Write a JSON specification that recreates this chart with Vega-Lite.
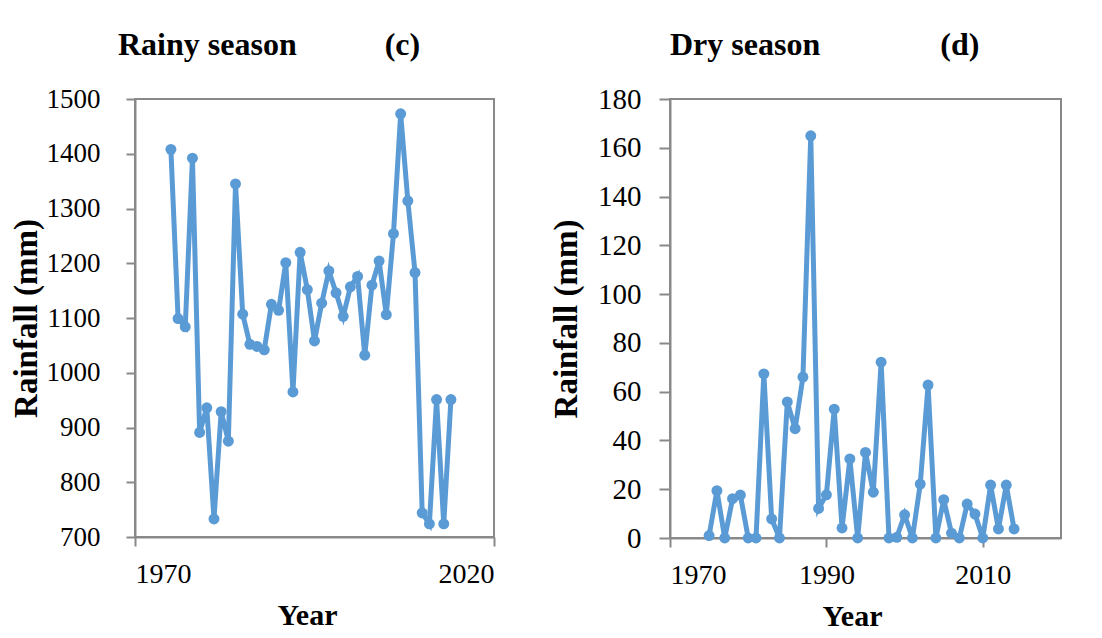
{
  "$schema": "https://vega.github.io/schema/vega-lite/v6.json",
  "background": "white",
  "padding": {"left": 9, "top": 28, "right": 0, "bottom": 0},
  "bounds": "flush",
  "spacing": 176,
  "datasets": {
    "rainy": [
      {"year": 1975, "rainfall": 1408}, {"year": 1976, "rainfall": 1099}, {"year": 1977, "rainfall": 1084}, {"year": 1978, "rainfall": 1392},
      {"year": 1979, "rainfall": 891}, {"year": 1980, "rainfall": 936}, {"year": 1981, "rainfall": 733}, {"year": 1982, "rainfall": 929},
      {"year": 1983, "rainfall": 875}, {"year": 1984, "rainfall": 1345}, {"year": 1985, "rainfall": 1107}, {"year": 1986, "rainfall": 1052},
      {"year": 1987, "rainfall": 1048}, {"year": 1988, "rainfall": 1042}, {"year": 1989, "rainfall": 1125}, {"year": 1990, "rainfall": 1114},
      {"year": 1991, "rainfall": 1201}, {"year": 1992, "rainfall": 965}, {"year": 1993, "rainfall": 1220}, {"year": 1994, "rainfall": 1152},
      {"year": 1995, "rainfall": 1058}, {"year": 1996, "rainfall": 1127}, {"year": 1997, "rainfall": 1186}, {"year": 1998, "rainfall": 1146},
      {"year": 1999, "rainfall": 1103}, {"year": 2000, "rainfall": 1157}, {"year": 2001, "rainfall": 1176}, {"year": 2002, "rainfall": 1032},
      {"year": 2003, "rainfall": 1160}, {"year": 2004, "rainfall": 1204}, {"year": 2005, "rainfall": 1106}, {"year": 2006, "rainfall": 1254},
      {"year": 2007, "rainfall": 1473}, {"year": 2008, "rainfall": 1314}, {"year": 2009, "rainfall": 1183}, {"year": 2010, "rainfall": 744},
      {"year": 2011, "rainfall": 724}, {"year": 2012, "rainfall": 951}, {"year": 2013, "rainfall": 724}, {"year": 2014, "rainfall": 951}
    ],
    "dry": [
      {"year": 1975, "rainfall": 1}, {"year": 1976, "rainfall": 19.4}, {"year": 1977, "rainfall": 0}, {"year": 1978, "rainfall": 16.1},
      {"year": 1979, "rainfall": 17.6}, {"year": 1980, "rainfall": 0}, {"year": 1981, "rainfall": 0}, {"year": 1982, "rainfall": 67.3},
      {"year": 1983, "rainfall": 7.8}, {"year": 1984, "rainfall": 0}, {"year": 1985, "rainfall": 55.8}, {"year": 1986, "rainfall": 44.8},
      {"year": 1987, "rainfall": 66}, {"year": 1988, "rainfall": 164.9}, {"year": 1989, "rainfall": 12.1}, {"year": 1990, "rainfall": 17.7},
      {"year": 1991, "rainfall": 52.8}, {"year": 1992, "rainfall": 4.1}, {"year": 1993, "rainfall": 32.4}, {"year": 1994, "rainfall": 0},
      {"year": 1995, "rainfall": 35.1}, {"year": 1996, "rainfall": 18.8}, {"year": 1997, "rainfall": 72.1}, {"year": 1998, "rainfall": 0},
      {"year": 1999, "rainfall": 0.3}, {"year": 2000, "rainfall": 9.5}, {"year": 2001, "rainfall": 0}, {"year": 2002, "rainfall": 22.1},
      {"year": 2003, "rainfall": 62.7}, {"year": 2004, "rainfall": 0}, {"year": 2005, "rainfall": 15.7}, {"year": 2006, "rainfall": 2},
      {"year": 2007, "rainfall": 0}, {"year": 2008, "rainfall": 13.9}, {"year": 2009, "rainfall": 9.8}, {"year": 2010, "rainfall": 0},
      {"year": 2011, "rainfall": 21.7}, {"year": 2012, "rainfall": 3.7}, {"year": 2013, "rainfall": 21.7}, {"year": 2014, "rainfall": 3.7}
    ]
  },
  "config": {
    "view": {"stroke": "#898989", "strokeWidth": 2},
    "axis": {
      "domainColor": "#898989", "domainWidth": 2, "tickColor": "#898989", "tickWidth": 2, "tickSize": 9,
      "grid": false,
      "labelFont": "Liberation Serif", "labelFontSize": 28, "labelColor": "black",
      "titleFont": "Liberation Serif", "titleFontWeight": "bold", "titleColor": "black"
    },
    "title": {"font": "Liberation Serif", "fontSize": 32, "fontWeight": "bold", "color": "black", "anchor": "start", "frame": "group", "baseline": "alphabetic"}
  },
  "hconcat": [
    {
      "width": 359, "height": 438,
      "data": {"name": "rainy"},
      "title": {"text": "Rainy season\u00a0\u00a0\u00a0\u00a0\u00a0\u00a0\u00a0\u00a0\u00a0\u00a0\u00a0(c)", "dx": -17, "offset": 23},
      "mark": {"type": "line", "color": "#5B9BD5", "strokeWidth": 5, "point": {"filled": true, "size": 120, "color": "#5B9BD5", "opacity": 1}},
      "encoding": {
        "x": {"field": "year", "type": "quantitative", "title": "Year",
              "scale": {"domain": [1970, 2020], "nice": false, "zero": false},
              "axis": {"values": [1970, 2020], "format": "d", "labelFont": "Liberation Serif", "labelFontSize": 28, "labelPadding": 14, "titlePadding": 12, "titleFont": "Liberation Serif", "titleFontSize": 30, "titleX": 172}},
        "y": {"field": "rainfall", "type": "quantitative", "title": "Rainfall (mm)",
              "scale": {"domain": [700, 1500], "nice": false, "zero": false},
              "axis": {"values": [700, 800, 900, 1000, 1100, 1200, 1300, 1400, 1500], "format": "d", "labelFont": "Liberation Serif", "labelFontSize": 27, "labelPadding": 26, "titlePadding": 3, "titleFont": "Liberation Serif", "titleFontSize": 33}}
      }
    },
    {
      "width": 391, "height": 439,
      "data": {"name": "dry"},
      "title": {"text": "Dry season\u00a0\u00a0\u00a0\u00a0\u00a0\u00a0\u00a0\u00a0\u00a0\u00a0\u00a0\u00a0\u00a0\u00a0\u00a0(d)", "dx": 0, "offset": 23},
      "mark": {"type": "line", "color": "#5B9BD5", "strokeWidth": 5, "point": {"filled": true, "size": 120, "color": "#5B9BD5", "opacity": 1}},
      "encoding": {
        "x": {"field": "year", "type": "quantitative", "title": "Year",
              "scale": {"domain": [1970, 2020], "nice": false, "zero": false},
              "axis": {"values": [1970, 1990, 2010], "format": "d", "labelFont": "Liberation Serif", "labelFontSize": 28, "labelPadding": 14, "titlePadding": 12, "titleFont": "Liberation Serif", "titleFontSize": 30, "titleX": 182}},
        "y": {"field": "rainfall", "type": "quantitative", "title": "Rainfall (mm)",
              "scale": {"domain": [0, 180], "nice": false},
              "axis": {"values": [0, 20, 40, 60, 80, 100, 120, 140, 160, 180], "format": "d", "labelFont": "Liberation Serif", "labelFontSize": 29, "tickSize": 11, "labelPadding": 18, "titlePadding": 14, "titleFont": "Liberation Serif", "titleFontSize": 33}}
      }
    }
  ]
}
